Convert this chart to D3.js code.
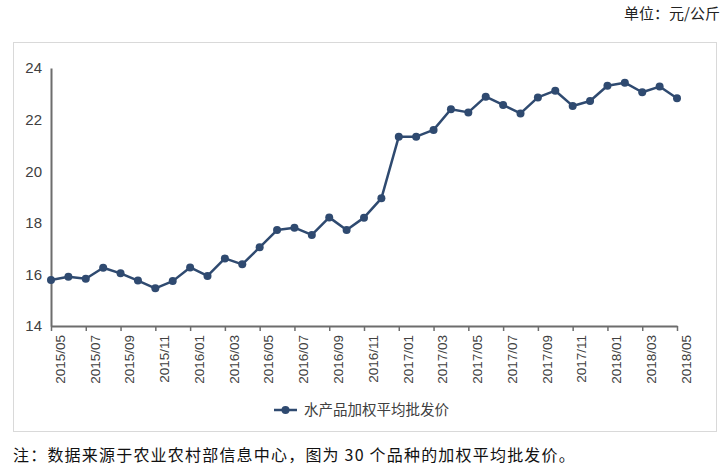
<!DOCTYPE html>
<html><head><meta charset="utf-8">
<script src="https://cdn.jsdelivr.net/npm/d3@7/dist/d3.min.js"></script>
<style>body{margin:0;background:#fff;}svg{display:block;}</style>
</head><body>
<svg id="c" width="723" height="472"></svg>
<script>
const months = ["2015/05","2015/06","2015/07","2015/08","2015/09","2015/10","2015/11","2015/12",
"2016/01","2016/02","2016/03","2016/04","2016/05","2016/06","2016/07","2016/08","2016/09","2016/10","2016/11","2016/12",
"2017/01","2017/02","2017/03","2017/04","2017/05","2017/06","2017/07","2017/08","2017/09","2017/10","2017/11","2017/12",
"2018/01","2018/02","2018/03","2018/04","2018/05"];
const prices = [15.78,15.91,15.83,16.26,16.04,15.76,15.46,15.74,
16.27,15.94,16.62,16.39,17.05,17.72,17.81,17.53,18.21,17.72,18.20,18.95,
21.34,21.34,21.60,22.40,22.28,22.89,22.57,22.24,22.86,23.12,22.53,22.72,
23.31,23.43,23.06,23.28,22.83];
const yTicks = [14,16,18,20,22,24];
const seriesName = "水产品加权平均批发价";
const unitText = "单位：元/公斤";
const noteText = "注：数据来源于农业农村部信息中心，图为 30 个品种的加权平均批发价。";

const svg = d3.select("#c");
const sans = "'Liberation Sans', Arial, 'Noto Sans CJK SC', sans-serif";
const cjk = "'Noto Sans CJK SC', sans-serif";

// frame
svg.append("rect").attr("x",13.5).attr("y",42.5).attr("width",703).attr("height",389)
  .attr("fill","#fff").attr("stroke","#d9d9d9").attr("stroke-width",1);

const x = d3.scalePoint().domain(months).range([51,677]);
const y = d3.scaleLinear().domain([14,24]).range([326,68]);

// y axis
const yAxis = d3.axisLeft(y).tickValues(yTicks).tickSize(0).tickPadding(9).tickFormat(d3.format("d"));
const gy = svg.append("g").attr("transform","translate(51,0)").call(yAxis);
gy.select(".domain").attr("stroke","#6d6d6d").attr("stroke-width",2);
gy.selectAll("text").attr("font-family",sans).attr("font-size",15).attr("fill","#404040");

// x axis
const labelMonths = months.filter((d,i)=>i%2===0);
const xAxis = d3.axisBottom(x).tickValues(labelMonths).tickSize(5).tickSizeOuter(0).tickFormat("");
const gx = svg.append("g").attr("transform","translate(0,326)").call(xAxis);
gx.select(".domain").attr("stroke","#6d6d6d").attr("stroke-width",2);
gx.selectAll(".tick line").attr("stroke","#6d6d6d").attr("stroke-width",1.5);
svg.append("g").selectAll("text").data(labelMonths).join("text")
  .attr("transform",d=>`translate(${x(d)+9},335) rotate(-90)`)
  .attr("text-anchor","end").attr("dy","0.35em")
  .attr("font-family",sans).attr("font-size",13.5).attr("fill","#404040")
  .text(d=>d);

// line
const color = "#2f4a70";
const line = d3.line().x((d,i)=>x(months[i])).y(d=>y(d));
svg.append("path").datum(prices).attr("d",line).attr("fill","none")
  .attr("stroke",color).attr("stroke-width",2.5).attr("stroke-linejoin","round");
svg.append("g").selectAll("circle").data(prices).join("circle")
  .attr("cx",(d,i)=>x(months[i])).attr("cy",d=>y(d)).attr("r",4).attr("fill",color);

// legend
const lg = svg.append("g");
lg.append("line").attr("x1",274).attr("x2",297).attr("y1",410).attr("y2",410)
  .attr("stroke",color).attr("stroke-width",2.5);
lg.append("circle").attr("cx",285.5).attr("cy",410).attr("r",4).attr("fill",color);
lg.append("text").attr("x",304).attr("y",410).attr("dy","0.35em")
  .attr("font-family",cjk).attr("font-size",14.5).attr("fill","#404040").text(seriesName);

// unit
svg.append("text").attr("x",720).attr("y",14).attr("dy","0.35em").attr("text-anchor","end")
  .attr("font-family",cjk).attr("font-size",15).attr("fill","#222").text(unitText);

// note
svg.append("text").attr("x",13).attr("y",455).attr("dy","0.35em")
  .attr("font-family",cjk).attr("font-size",16).attr("letter-spacing",1.2).attr("fill","#111").text(noteText);
</script>
</body></html>
